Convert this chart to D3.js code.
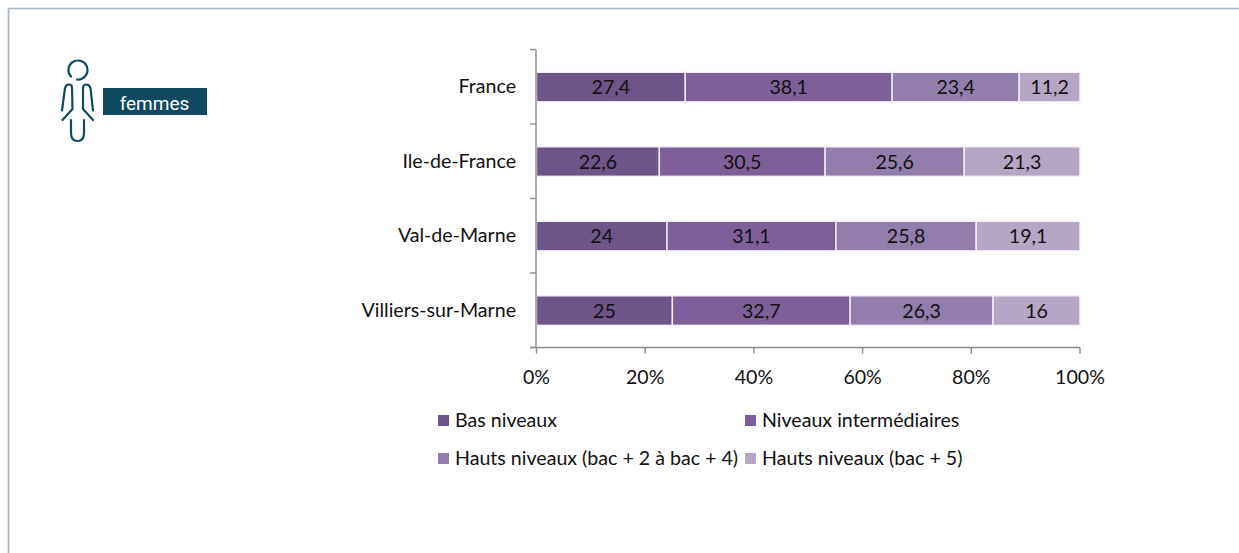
<!DOCTYPE html>
<html><head><meta charset="utf-8">
<script src="https://cdn.jsdelivr.net/npm/d3@7"></script>
<style>html,body{margin:0;padding:0;background:#fff}svg{display:block}text{font-family:Lato,"Open Sans",sans-serif}</style>
</head><body><svg id="c" width="1239" height="553"></svg>
<script>
const categories = ["France","Ile-de-France","Val-de-Marne","Villiers-sur-Marne"];
const seriesNames = ["Bas niveaux","Niveaux intermédiaires","Hauts niveaux (bac + 2 à bac + 4)","Hauts niveaux (bac + 5)"];
const bas = [27.4,22.6,24,25];
const intermediaires = [38.1,30.5,31.1,32.7];
const hauts2a4 = [23.4,25.6,25.8,26.3];
const hauts5 = [11.2,21.3,19.1,16];
const colors = ["#6e5489","#7f5f99","#937dad","#b6a5c5"];
const xTicks = [0,.2,.4,.6,.8,1];
const allValues = [bas,intermediaires,hauts2a4,hauts5];

const svg = d3.select("#c");
const ink = "#111", axisCol = "#8c8c8c", navy = "#0f4a60";
const fs = 19.6;

// frame
svg.append("path").attr("d","M8.5,553V8.5H1239").attr("fill","none").attr("stroke","#a2b6c8").attr("stroke-width",1.7);

// person icon
const icon = svg.append("g").attr("fill","none").attr("stroke",navy).attr("stroke-width",2.2).attr("stroke-linecap","round").attr("stroke-linejoin","round");
icon.append("path").attr("d","M77,79.5A9.5,9.5,0,1,0,71,76.5");
icon.append("path").attr("d","M62,110.5L65,88Q66,84.5,69,84.5Q72,84.5,72,88L72.5,109L62.5,120");
icon.append("path").attr("d","M93,110.5L90.5,88Q89.5,84.5,86,84.5Q83,84.5,83,88L83,109L93,120");
icon.append("path").attr("d","M71,120V133Q71,141,77.5,141Q84,141,84,133V120");
svg.append("rect").attr("x",103).attr("y",88).attr("width",104).attr("height",27).attr("fill",navy);
svg.append("text").attr("x",154.5).attr("y",110).attr("text-anchor","middle").attr("fill","#fff").style("font-family","Roboto").attr("font-size",19).text("femmes");

// scales
const x = d3.scaleLinear().domain([0,1]).range([536.5,1080]);
const yBand = d3.scaleBand().domain(categories).range([49.5,347.5]);

// stack
const rows = categories.map((c,i)=>{const o={cat:c};seriesNames.forEach((s,j)=>o[s]=allValues[j][i]);return o;});
const stack = d3.stack().keys(seriesNames).offset(d3.stackOffsetExpand)(rows);

const barH = 29.5;
stack.forEach((layer,j)=>{
  const g = svg.append("g");
  layer.forEach((d,i)=>{
    const cy = yBand(d.data.cat)+yBand.bandwidth()/2+0.3;
    const x0=x(d[0]),x1=x(d[1]);
    g.append("rect").attr("x",x0).attr("y",cy-barH/2).attr("width",x1-x0).attr("height",barH)
     .attr("fill",colors[j]).attr("stroke","#f4f1f7").attr("stroke-width",1.4);
    g.append("text").attr("x",(x0+x1)/2).attr("y",cy+7).attr("text-anchor","middle").attr("fill",ink).attr("font-size",fs)
     .text(String(allValues[j][i]).replace(".",","));
  });
});

// axes
const yAxis = svg.append("g").attr("stroke",axisCol).attr("stroke-width",1.4);
yAxis.append("line").attr("x1",536).attr("x2",536).attr("y1",yBand.range()[0]).attr("y2",yBand.range()[1]);
[...categories.map(c=>yBand(c)),yBand.range()[1]].forEach(v=>yAxis.append("line").attr("x1",530).attr("x2",536).attr("y1",v).attr("y2",v));
const xAxis = svg.append("g").attr("stroke",axisCol).attr("stroke-width",1.4);
xAxis.append("line").attr("x1",530).attr("x2",x(1)).attr("y1",347.5).attr("y2",347.5);
xTicks.forEach(t=>xAxis.append("line").attr("x1",x(t)).attr("x2",x(t)).attr("y1",347.5).attr("y2",353.5));

categories.forEach(c=>svg.append("text").attr("x",516).attr("y",yBand(c)+yBand.bandwidth()/2+6.5).attr("text-anchor","end").attr("fill",ink).attr("font-size",fs).text(c));
xTicks.forEach(t=>svg.append("text").attr("x",x(t)).attr("y",383.5).attr("text-anchor","middle").attr("fill",ink).attr("font-size",fs).text(d3.format(".0%")(t)));

// legend
const legX=[438,745], legY=[421,459];
seriesNames.forEach((s,i)=>{
  const lx=legX[i%2], ly=legY[Math.floor(i/2)];
  svg.append("rect").attr("x",lx).attr("y",ly-6).attr("width",11).attr("height",11).attr("fill",colors[i]);
  svg.append("text").attr("x",lx+17).attr("y",ly+6).attr("fill",ink).attr("font-size",fs).text(s);
});
</script></body></html>
